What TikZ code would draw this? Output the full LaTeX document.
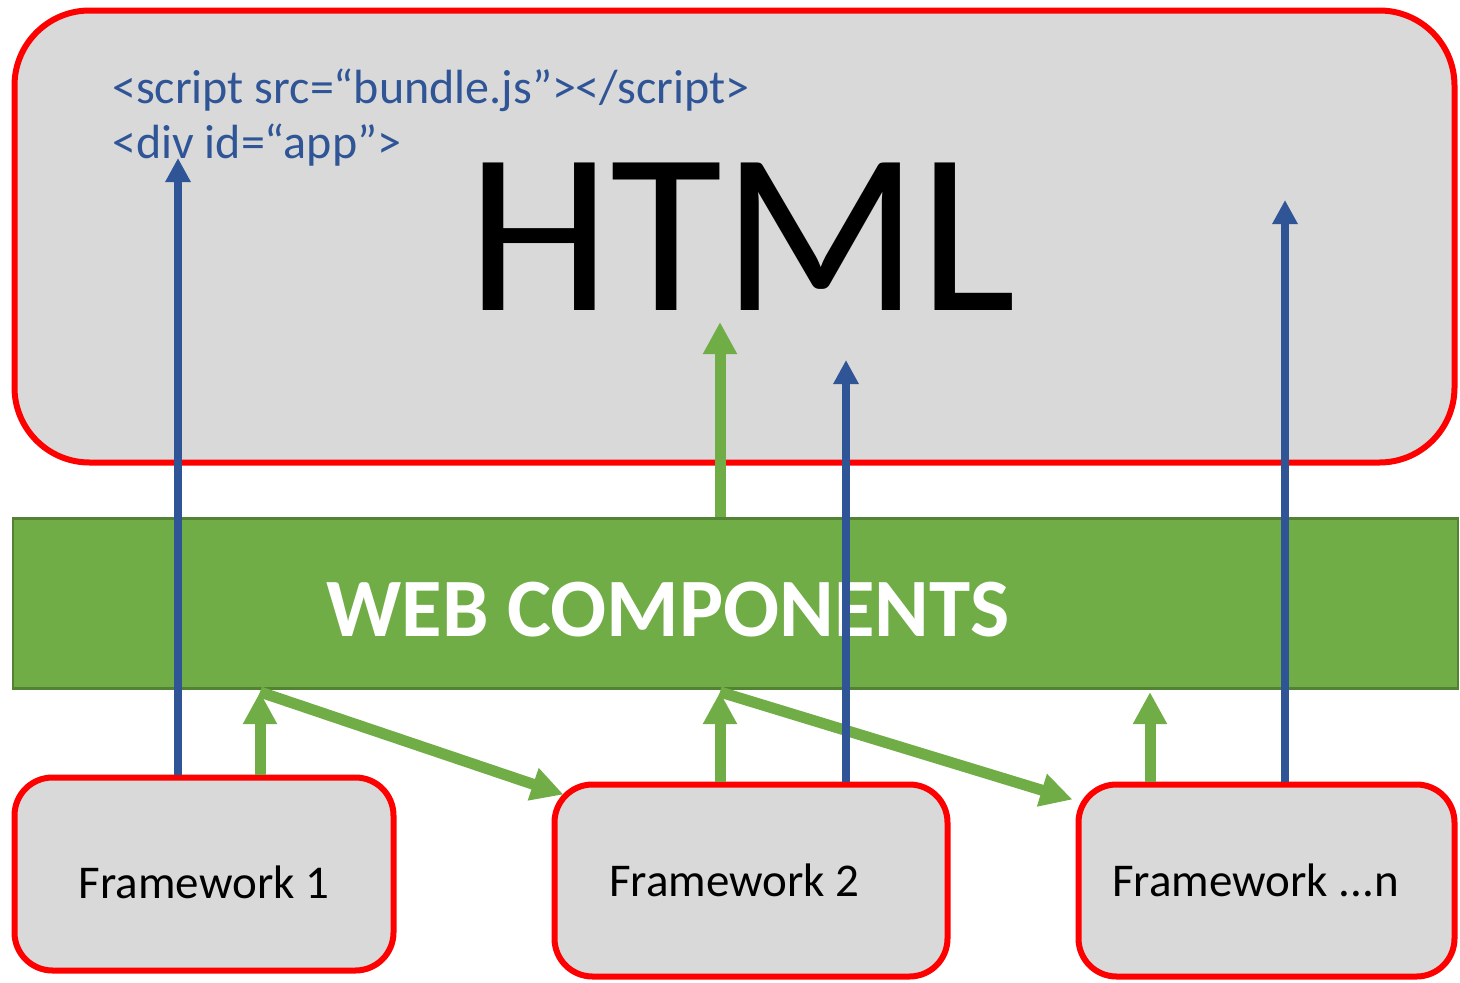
\documentclass[tikz,border=0pt]{standalone}
\usepackage{fontspec}
\setmainfont{Carlito}
\usetikzlibrary{arrows.meta}

\definecolor{boxgray}{HTML}{D9D9D9}
\definecolor{leafgreen}{HTML}{70AD47}
\definecolor{darkleaf}{HTML}{548235}
\definecolor{tagblue}{HTML}{2F5597}

\begin{document}
\begin{tikzpicture}[x=1pt, y=-1pt, line cap=butt, line join=miter,
		redbox/.style={draw=red, line width=6pt, fill=boxgray, inner sep=0pt},
		fwbox/.style={redbox, rounded corners=38pt, minimum height=192pt, font=\fontsize{47}{47}\selectfont},
		bluearrow/.style={draw=tagblue, line width=8pt, -{Triangle[width=24pt,length=24pt]}},
		greenarrow/.style={draw=leafgreen, line width=11pt, -{Triangle[width=32pt,length=32pt]}}]
		
		\useasboundingbox (0,0) rectangle (1460,983);
		
		% --- HTML-Seite (oben) ---
		\node[redbox, rounded corners=75pt, minimum width=1440pt, minimum height=452pt] (html) at (734.5,236.5) {};
		\node[anchor=base, inner sep=0pt, font=\fontsize{230}{230}\selectfont] (htmltitle) at (742,310) {HTML};
		\node[anchor=base west, inner sep=0pt, text=tagblue, font=\fontsize{48}{57}\selectfont] (tagscript) at (112,103) {<script src=“bundle.js”></script>};
		\node[anchor=base west, inner sep=0pt, text=tagblue, font=\fontsize{48}{57}\selectfont] (tagdiv) at (112,158) {<div id=“app”>};
		
		% --- Web Components (Balken) ---
		\node[draw=darkleaf, line width=2.5pt, fill=leafgreen, inner sep=0pt, minimum width=1445pt, minimum height=170pt] (wc) at (735.5,603.5) {};
		\node[anchor=base, inner sep=0pt, text=white, font=\fontsize{83}{83}\selectfont\bfseries] (wctitle) at (668,636) {WEB COMPONENTS};
		
		% --- Frameworks (unten) ---
		\node[fwbox, minimum width=379pt, minimum height=193pt, text height=48pt, text depth=0pt] (fw1) at (204,874) {Framework 1};
		\node[fwbox, minimum width=393pt, align=flush left, text width=284pt, inner xsep=54.5pt] (fw2) at (751,880.5) {Framework 2};
		\node[fwbox, minimum width=376pt, align=flush left, text width=309pt, inner xsep=33.5pt] (fwn) at (1266.5,880.5) {Framework ...n};
		
		% --- Punkte fuer die Pfeile ---
		\coordinate (g0) at (720,322);
		\coordinate (g1) at (260,692);
		\coordinate (g2) at (720,692);
		\coordinate (g3) at (1150,692);
		\coordinate (fw2corner) at ([shift={(12,13)}]fw2.north west);
		\coordinate (fwncorner) at ([shift={(-3,18)}]fwn.north west);
		
		% --- gruene Pfeile ---
		\draw[greenarrow] (wc.north -| g0) -- (g0);
		\draw[greenarrow] (fw1.north -| g1) -- (g1);
		\draw[greenarrow] (fw2.north -| g2) -- (g2);
		\draw[greenarrow] (fwn.north -| g3) -- (g3);
		\draw[greenarrow] (g1) -- (fw2corner);
		\draw[greenarrow] (g2) -- (fwncorner);
		
		% --- blaue Pfeile (bundle.js -> Seite) ---
		\coordinate (b1) at (178,158);
		\coordinate (b2) at (846,360);
		\coordinate (b3) at (1285,200);
		\draw[bluearrow] (fw1.north -| b1) -- (b1);
		\draw[bluearrow] (fw2.north -| b2) -- (b2);
		\draw[bluearrow] (fwn.north -| b3) -- (b3);
		
	\end{tikzpicture}
\end{document}
